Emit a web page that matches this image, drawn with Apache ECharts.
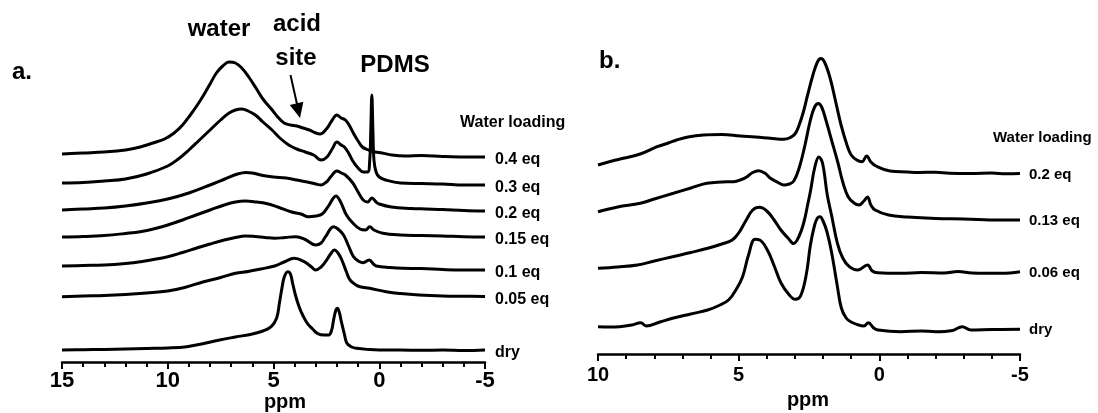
<!DOCTYPE html>
<html><head><meta charset="utf-8">
<script src="https://cdn.jsdelivr.net/npm/echarts@6/dist/echarts.min.js"></script>
<style>html,body{margin:0;padding:0;background:#fff}#c{width:1098px;height:413px}</style>
</head><body><div id="c"></div>
<script>
// ---------- axes ----------
const xRangeA = [-5, 15];
const xRangeB = [-5, 10];
const xStep = 5;
const axisTitle = 'ppm';
// ---------- panel a: stacked 1H spectra [ppm, displayed intensity] ----------
const labelsA = ['0.4 eq', '0.3 eq', '0.2 eq', '0.15 eq', '0.1 eq', '0.05 eq', 'dry'];
const a04 = [[15,208],[14,209],[13,210],[12,212],[11.3,215],[10.7,219],[10.15,223],[9.7,229],[9.3,237],[8.9,248],[8.6,257],[8.3,267],[8.0,278],[7.7,289],[7.4,296],[7.1,300],[6.8,299],[6.5,294],[6.17,285],[5.8,273],[5.5,263],[5.1,253],[4.8,245],[4.5,239],[4.2,237],[3.9,236],[3.6,234],[3.3,232],[3.0,229],[2.8,228],[2.5,233],[2.25,241],[2.0,247],[1.8,244],[1.6,242],[1.4,236],[1.2,228],[1.0,221],[0.8,215],[0.5,212],[0.2,210],[-0.13,209],[-0.6,207],[-1.23,206],[-2.0,206.5],[-3.0,205.5],[-4.06,205],[-5,205]];
const a03 = [[15,179],[14,179.5],[13,181],[12,183],[11,188],[10,196],[9.5,203],[9,212],[8.5,222],[8,232],[7.5,242],[7.1,249],[6.8,252],[6.5,253],[6.2,251],[5.86,247],[5.5,240],[5.07,232],[4.7,224],[4.28,217],[3.9,213],[3.5,210],[3.1,207],[2.75,202],[2.47,205],[2.2,214],[2.0,220],[1.8,217],[1.65,215],[1.45,209],[1.25,201],[1.0,194],[0.75,190],[0.55,190],[0.45,202],[0.4,232],[0.35,267],[0.3,232],[0.25,202],[0.15,190],[0,185],[-0.3,182],[-1,179],[-2,178.5],[-3,178],[-4,177],[-5,177]];
const a02 = [[15,152],[14,153],[13,154],[12,156],[11,159],[10,163],[9,169],[8,177],[7.3,183],[6.7,188],[6.3,189.5],[6,189],[5.5,186.5],[5,185],[4.4,184],[3.9,182],[3.4,180],[3,178],[2.75,177],[2.5,180],[2.3,185],[2.0,191],[1.8,189],[1.6,187],[1.25,179],[1.0,170],[0.76,162],[0.55,160],[0.35,164],[0.15,160],[0,158],[-0.57,155],[-1.5,153.5],[-2.2,153],[-3,152.5],[-4,151.5],[-5,151]];
const a015 = [[15,125],[14,125.5],[13,126.5],[12,128.5],[11.3,130.3],[10.5,134],[10,137],[9.3,142],[8.66,147],[8,152],[7.33,157],[6.8,160],[6.33,161],[5.8,160],[5.34,158.5],[4.8,155],[4.18,150.3],[3.7,148],[3.35,145.3],[3.0,146],[2.7,148],[2.4,156],[2.2,163],[2.05,166],[1.85,161],[1.55,147],[1.25,139],[0.91,133],[0.65,132],[0.45,135.3],[0.25,132],[-0.17,128.7],[-1,127],[-2,126.5],[-3,126],[-4,125.3],[-5,125]];
const a01 = [[15,96],[14,96.5],[13,97],[12,98.5],[11.3,100.3],[10,105.3],[9.3,109.5],[8.66,113.7],[8,118],[7.33,122],[6.8,124.5],[6.33,126],[5.88,125.5],[5.4,124.5],[4.95,123.7],[4.45,124.5],[3.94,125.3],[3.5,122.5],[3.01,117],[2.75,119],[2.54,125.3],[2.16,135.3],[1.95,133],[1.69,127],[1.45,116],[1.22,105.3],[0.95,100.5],[0.76,99.3],[0.48,102],[0.25,97.5],[0.14,96],[-0.5,94.5],[-1.1,93.7],[-2,93.5],[-3,92.5],[-3.9,92],[-5,92]];
const a005 = [[15,65.3],[14,66],[13,66.5],[12,67.5],[11,69],[10,71],[9.2,74.5],[8.3,80.3],[7.5,84.5],[6.8,88.7],[6.2,90.5],[5.6,93],[4.95,96],[4.5,100],[4.02,103.7],[3.55,100.3],[3.2,95],[3.01,92],[2.75,95],[2.54,100.3],[2.3,108],[2.12,112],[1.95,109],[1.77,102],[1.55,90],[1.38,82],[1.1,77],[0.91,75.3],[0.45,73.7],[-0.33,70.3],[-1,68.5],[-1.88,67],[-3,66],[-4,65.7],[-5,65.5]];
const a0dry = [[15,12],[14,12.3],[13,12.5],[12,13],[11,13.5],[10,14],[9.1,15.3],[8.3,18.5],[7.55,22],[6.8,25],[6,28],[5.5,31],[5.11,35.3],[4.85,44],[4.72,59],[4.6,74],[4.49,85],[4.33,90.3],[4.2,88],[4.1,79],[3.95,66],[3.79,55.3],[3.6,46],[3.4,38.7],[3.15,33],[2.93,28.7],[2.6,27],[2.39,27],[2.25,32],[2.16,42],[2.05,52],[1.98,53.7],[1.88,49],[1.81,42],[1.65,28],[1.53,18.7],[1.3,15],[1.07,13.7],[0.5,12.5],[0,12],[-1,12],[-2,11.7],[-3,12],[-4,11.5],[-5,12]];
const seriesA = [a04, a03, a02, a015, a01, a005, a0dry];
// ---------- panel b ----------
const labelsB = ['0.2 eq', '0.13 eq', '0.06 eq', 'dry'];
const b02 = [[10,189],[9.5,193],[9.1,195.7],[8.5,200],[7.9,207.3],[7.5,211],[7.2,214],[6.8,217],[6.25,219],[5.6,219.5],[4.94,218],[4.4,217],[3.87,215.7],[3.39,214.7],[3.2,216],[3.0,220],[2.85,229],[2.7,242],[2.55,259],[2.36,279],[2.2,292],[2.08,295.5],[1.95,292],[1.75,276],[1.55,252],[1.36,229],[1.15,209],[1.0,199],[0.8,194],[0.62,192.3],[0.45,198],[0.3,192],[0.12,188],[-0.38,183],[-1,182],[-1.4,181.5],[-2,181.8],[-2.5,180.8],[-3.25,180.6],[-4,181],[-4.5,180.2],[-5,180.5]];
const b013 = [[10,142.3],[9.3,147],[8.5,150.7],[8,155],[7.32,160.7],[6.7,166],[6.13,170.7],[5.6,172],[5.18,172.3],[4.9,174.5],[4.7,177.3],[4.5,181.5],[4.29,183.3],[4.05,180.5],[3.87,175.7],[3.6,171.5],[3.39,169],[3.2,170],[3.04,173],[2.85,186],[2.65,208],[2.45,234],[2.3,247],[2.17,250.5],[2.05,247],[1.9,234],[1.7,214],[1.47,191],[1.3,172],[1.11,157.3],[0.9,151],[0.72,149],[0.55,153],[0.42,157],[0.3,149],[0.15,144],[-0.33,139],[-1,137],[-2,135.5],[-3,135],[-4.28,134],[-5,134]];
const b006 = [[10,85.7],[9.3,87],[8.6,89],[8,93],[7.35,97.3],[6.7,101.5],[6.1,105.7],[5.6,110],[5.23,114],[5,121],[4.73,134],[4.5,144],[4.26,146.7],[4,143],[3.74,134],[3.5,124],[3.24,115.7],[3.05,110.5],[2.85,118],[2.68,132],[2.55,149],[2.44,164],[2.3,186],[2.15,197],[2.02,191],[1.85,159],[1.7,139],[1.49,110.7],[1.3,96],[1.07,87.3],[0.77,84],[0.42,89],[0.25,83],[0.06,81.3],[-0.76,80.7],[-1.5,81.5],[-2.3,81],[-2.8,82.5],[-3.3,81],[-4.35,80.7],[-5,82.3]];
const b0dry = [[10,27.3],[9.6,27],[9.23,27.3],[8.8,29],[8.48,31.3],[8.29,28],[7.8,32],[7.35,35.7],[6.7,40],[6.1,44],[5.7,48.5],[5.36,54],[5.1,64],[4.86,77.3],[4.65,99],[4.42,114.7],[4.25,114],[3.98,104],[3.75,89],[3.49,70.7],[3.2,59],[2.99,54.7],[2.8,58],[2.6,79],[2.45,109],[2.3,129],[2.2,136],[2.11,137.3],[2.0,133],[1.86,122],[1.7,102],[1.5,69],[1.35,46],[1.18,36],[1.0,32],[0.74,29],[0.55,28],[0.39,31.3],[0.2,26],[0.05,24],[-0.76,22.3],[-1.5,23],[-2,22.3],[-2.6,23.5],[-2.94,27.3],[-3.25,24],[-4,24.5],[-5,24.7]];
const seriesB = [b02, b013, b006, b0dry];
// ---------- annotations ----------
const panelTags = ['a.', 'b.'];
const peakNames = ['water', 'acid', 'site', 'PDMS'];
const legendTitle = 'Water loading';

const FONT = '"Liberation Sans", Arial, sans-serif';
const chart = echarts.init(document.getElementById('c'), null, {renderer: 'canvas'});

function xAxisCfg(grid, range, fs, margin) {
  return {
    type: 'value', gridIndex: grid, inverse: true, min: range[0], max: range[1], interval: xStep,
    axisLine: {show: true, lineStyle: {color: '#000', width: 2.5}},
    axisTick: {show: true, inside: false, length: 7, lineStyle: {color: '#000', width: 2}},
    minorTick: {show: true, splitNumber: 5, length: 5, lineStyle: {color: '#000', width: 2}},
    splitLine: {show: false},
    axisLabel: {color: '#000', fontSize: fs, fontWeight: 'bold', fontFamily: FONT, margin: margin}
  };
}
function mkSeries(list, names, xi) {
  return list.map((d, i) => ({
    type: 'line', name: names[i], data: d, xAxisIndex: xi, yAxisIndex: xi,
    showSymbol: false, smooth: 0.4,
    lineStyle: {color: '#000', width: 3}, silent: true
  }));
}

chart.setOption({
  animation: false,
  backgroundColor: '#fff',
  grid: [
    {left: 62, right: 613, top: 52, bottom: 51},
    {left: 598, right: 78, top: 54, bottom: 59}
  ],
  xAxis: [xAxisCfg(0, xRangeA, 22, 8), xAxisCfg(1, xRangeB, 20, 11)],
  yAxis: [
    {type: 'value', gridIndex: 0, min: 0, max: 310, show: false},
    {type: 'value', gridIndex: 1, min: 0, max: 300, show: false}
  ],
  series: mkSeries(seriesA, labelsA, 0).concat(mkSeries(seriesB, labelsB, 1))
});

// labels placed at each trace's end through the library's coordinate conversion
const txt = (x, y, s, fs, align) => ({
  type: 'text', silent: true,
  style: {x: x, y: y, text: s, fontSize: fs, fontWeight: 'bold', fontFamily: FONT, fill: '#000',
          textAlign: align || 'left', textVerticalAlign: 'middle'}
});
const g = [];
seriesA.forEach((d, i) => {
  const p = chart.convertToPixel({gridIndex: 0}, d[d.length - 1]);
  g.push(txt(p[0] + 10, p[1] + 3, labelsA[i], 16));
});
seriesB.forEach((d, i) => {
  const p = chart.convertToPixel({gridIndex: 1}, d[d.length - 1]);
  g.push(txt(p[0] + 9, p[1] + 1, labelsB[i], 15));
});
g.push(txt(460, 123, legendTitle, 16));
g.push(txt(993, 138, legendTitle, 15));
g.push(txt(12, 72, panelTags[0], 24));
g.push(txt(599, 61, panelTags[1], 24));
g.push(txt(219, 29, peakNames[0], 24, 'center'));
g.push(txt(297, 24, peakNames[1], 24, 'center'));
g.push(txt(296, 58, peakNames[2], 24, 'center'));
g.push(txt(395, 65, peakNames[3], 24, 'center'));
g.push(txt(285, 402, axisTitle, 20, 'center'));
g.push(txt(808, 400, axisTitle, 20, 'center'));
g.push({type: 'line', silent: true, shape: {x1: 290.5, y1: 75, x2: 297, y2: 104}, style: {stroke: '#000', lineWidth: 2}});
g.push({type: 'polygon', silent: true, shape: {points: [[300, 118], [289.8, 105], [303.4, 101.8]]}, style: {fill: '#000'}});
chart.setOption({graphic: {elements: g}});
</script>
</body></html>
